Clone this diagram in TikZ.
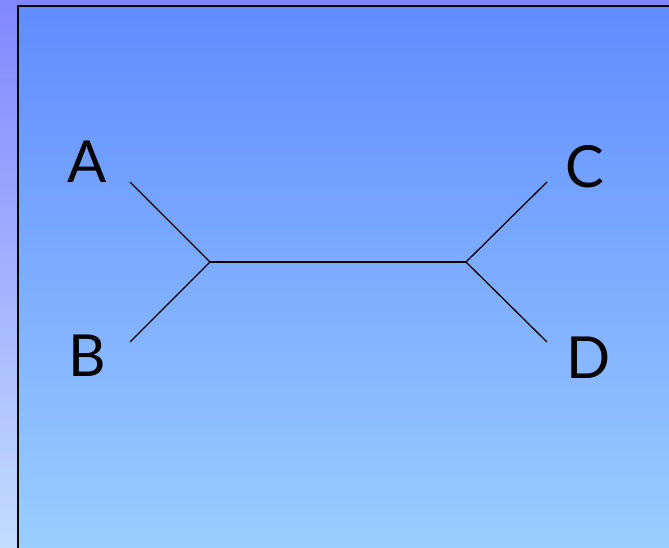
\documentclass[tikz,border=0pt]{standalone}
\usepackage{fontspec}
\setmainfont{Lato}
\definecolor{outtop}{RGB}{128,136,255}
\definecolor{outbot}{RGB}{196,220,255}
\definecolor{intop}{RGB}{96,140,255}
\definecolor{inbot}{RGB}{155,205,255}
\tikzset{
  lbl/.style={font=\fontsize{58}{58}\selectfont, text=black, inner sep=0pt},
  edge/.style={draw=black, line width=1.3pt}
}
\begin{document}
\begin{tikzpicture}[x=1pt,y=-1pt]
\useasboundingbox (0,0) rectangle (669,548);
\shade[top color=outtop, bottom color=outbot] (0,0) rectangle (669,548);
\shade[top color=intop, bottom color=inbot] (18,6) rectangle (669,548);
\draw[black, line width=2pt] (18,549) -- (18,6) -- (670,6);
\node[lbl] (A) at (87,162) {A};
\node[lbl] (B) at (87,356) {B};
\node[lbl] (C) at (585,167) {C};
\node[lbl] (D) at (589,358) {D};
\coordinate (a) at (130,182);
\coordinate (b) at (130,342);
\coordinate (c) at (547,182);
\coordinate (d) at (547,342);
\coordinate (L) at (210,262);
\coordinate (R) at (466,262);
\draw[edge] (a) -- (L) -- (b);
\draw[edge] (L) -- (R);
\draw[edge] (c) -- (R) -- (d);
\end{tikzpicture}
\end{document}
